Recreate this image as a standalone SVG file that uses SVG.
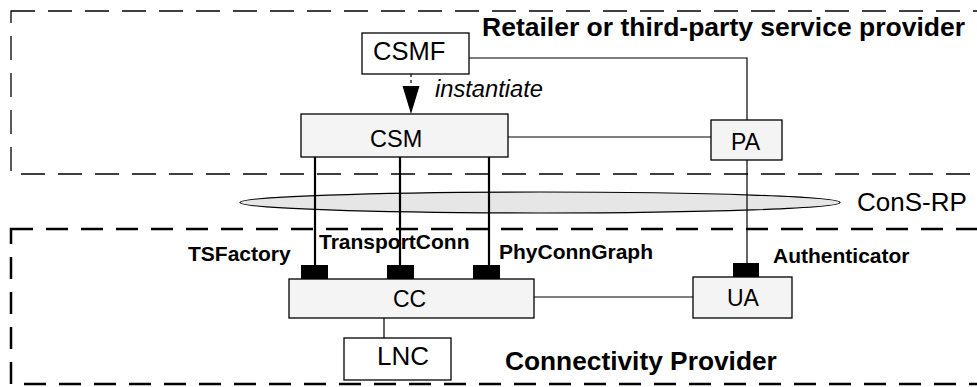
<svg xmlns="http://www.w3.org/2000/svg" width="977" height="387" viewBox="0 0 977 387">
<defs>
<style>
.box{fill:#f4f4f4;stroke:#000;stroke-width:1.3}
.wbox{fill:#fff;stroke:#000;stroke-width:1.3}
.t{font-family:"Liberation Sans",Arial,sans-serif;fill:#000}
.b{font-family:"Liberation Sans",Arial,sans-serif;font-weight:bold;fill:#000}
.lbl{font-size:21px}
.thin{stroke:#000;stroke-width:1.2;fill:none}
.thick{stroke:#000;stroke-width:2.2;fill:none}
.port{fill:#000}
</style>
</defs>
<g id="regions">
<rect x="11" y="11" width="990" height="163" fill="none" stroke="#000" stroke-width="1.3" stroke-dasharray="24,13"/>
<rect x="11" y="229" width="990" height="155" fill="none" stroke="#000" stroke-width="2.5" stroke-dasharray="22,13"/>
<text class="b" x="482" y="36" font-size="26.5">Retailer or third-party service provider</text>
<text class="b" x="505" y="370" font-size="26.3">Connectivity Provider</text>
</g>
<g id="cons-rp">
<ellipse cx="540" cy="202.5" rx="300" ry="10.5" fill="#e6e6e6" stroke="#000" stroke-width="1.2"/>
<text class="t" x="857" y="211" font-size="26">ConS-RP</text>
</g>
<g id="connectors">
<polyline class="thin" points="469,58 747,58 747,120"/>
<line class="thin" x1="508" y1="137" x2="711" y2="137"/>
<line class="thin" x1="747" y1="160" x2="747" y2="263"/>
<line class="thin" x1="534" y1="297" x2="693" y2="297"/>
<line class="thin" x1="384" y1="318" x2="384" y2="338"/>
<line x1="411" y1="74" x2="411" y2="86" stroke="#000" stroke-width="1.2" stroke-dasharray="3,3"/>
<path d="M402.5,86 L419.5,86 L411,114 Z" fill="#000"/>
<line class="thick" x1="315" y1="157" x2="315" y2="265"/>
<line class="thick" x1="400" y1="157" x2="400" y2="265"/>
<line class="thick" x1="489" y1="157" x2="489" y2="265"/>
<text class="t" x="435" y="97" font-size="23.7" font-style="italic">instantiate</text>
</g>
<g id="CSMF">
<rect class="wbox" x="362" y="33" width="107" height="41"/>
<text class="t" x="373" y="60" font-size="25.5">CSMF</text>
</g>
<g id="CSM">
<rect class="box" x="301" y="114" width="207" height="43"/>
<text class="t" x="370" y="147" font-size="23.5">CSM</text>
</g>
<g id="PA">
<rect class="box" x="711" y="120" width="71" height="40"/>
<text class="t" x="731" y="150" font-size="23">PA</text>
</g>
<g id="CC">
<rect class="port" x="301" y="265" width="27" height="14"/>
<rect class="port" x="387" y="265" width="27" height="14"/>
<rect class="port" x="473" y="265" width="27" height="14"/>
<rect class="box" x="289" y="279" width="245" height="39"/>
<text class="t" x="393" y="307" font-size="23">CC</text>
<text class="b lbl" x="188" y="261">TSFactory</text>
<text class="b lbl" x="319" y="249">TransportConn</text>
<text class="b lbl" x="499" y="259">PhyConnGraph</text>
</g>
<g id="UA">
<rect class="port" x="733" y="263" width="26" height="14"/>
<rect class="box" x="693" y="277" width="99" height="41"/>
<text class="t" x="727" y="306" font-size="23">UA</text>
<text class="b lbl" x="773" y="263">Authenticator</text>
</g>
<g id="LNC">
<rect class="wbox" x="344" y="338" width="107" height="42"/>
<text class="t" x="377" y="365" font-size="26">LNC</text>
</g>
</svg>
